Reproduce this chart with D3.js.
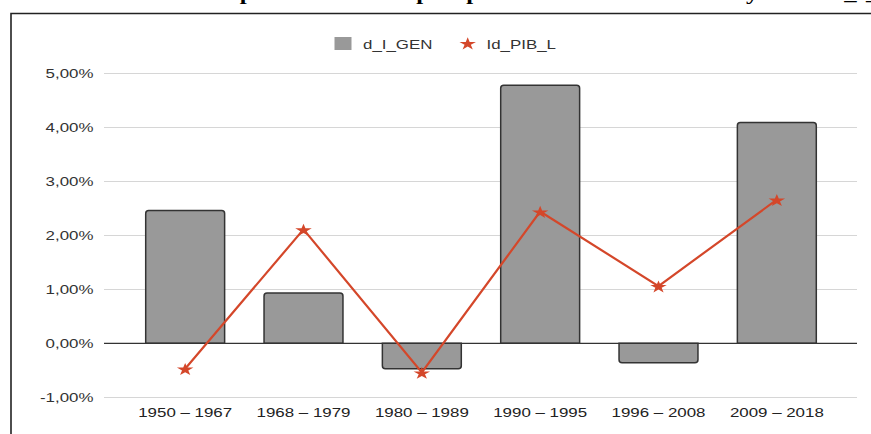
<!DOCTYPE html>
<html><head><meta charset="utf-8">
<script src="https://cdn.jsdelivr.net/npm/d3@7"></script>
<style>html,body{margin:0;padding:0;background:#fff;overflow:hidden}</style>
</head><body>
<svg id="c" width="871" height="434"></svg>
<script>
const categories = ["1950 – 1967","1968 – 1979","1980 – 1989","1990 – 1995","1996 – 2008","2009 – 2018"];
const dIGen = [2.46, 0.93, -0.47, 4.78, -0.36, 4.09];
const idPibL = [-0.47, 2.11, -0.54, 2.44, 1.06, 2.66];
const yTicks = [-1, 0, 1, 2, 3, 4, 5];
const seriesNames = ["d_I_GEN", "Id_PIB_L"];
const titleText = "Gráfico 3. Crecimiento promedio del empleo público frente al PIB total y de las d_I_GEN por periodos";

const SX = 1.3; // horizontal stretch of the picture
const svg = d3.select("#c");
const font = "'Liberation Sans', Arial, sans-serif";

// title (cut off at top)
const tg = svg.append("g").attr("transform", `scale(${SX},1)`);
const tt = tg.append("text").text(titleText)
  .attr("font-family", "'Liberation Serif','Times New Roman',serif")
  .attr("font-weight", "bold").attr("font-size", 19).attr("y", 0.3).attr("fill", "#000");
const idx = titleText.indexOf("empleo") + 2;
const px = tt.node().getStartPositionOfChar(idx).x;
const pw = tt.node().getExtentOfChar(idx).width;
tt.attr("x", 423 / SX - px - pw / 2);

// frame
svg.append("path").attr("d", "M11,434 V13.5 H871").attr("fill", "none")
  .attr("stroke", "#222").attr("stroke-width", 1.6);

const x = d3.scaleBand().domain(categories).range([126, 836]).paddingInner(0.333).paddingOuter(0.1665);
const y = d3.scaleLinear().domain([-1, 5]).range([397.3, 73.3]);
const plotL = 104, plotR = 857;

// grid
svg.append("g").selectAll("line").data(yTicks.filter(d => d !== 0)).join("line")
  .attr("x1", plotL).attr("x2", plotR)
  .attr("y1", d => Math.round(y(d)) + 0.5).attr("y2", d => Math.round(y(d)) + 0.5)
  .attr("stroke", "#d6d6d6").attr("stroke-width", 1);

// y axis labels
const yAxis = d3.axisLeft(y).tickValues(yTicks).tickSize(0).tickPadding(0)
  .tickFormat(d => d3.format(".2f")(d).replace(".", ",").replace("−", "-") + "%");
const ya = svg.append("g").attr("transform", `translate(93.5,0)`).call(yAxis);
ya.select(".domain").remove();
ya.selectAll("text").attr("font-family", font).attr("font-size", 13).attr("fill", "#333")
  .attr("x", 0).attr("dy", "0.35em").attr("transform", `scale(${SX},1)`);

// bars
const r = 3;
function barPath(d, c) {
  const x0 = x(c), x1 = x0 + x.bandwidth();
  const y0 = y(0), yv = y(d);
  if (d >= 0) {
    return `M${x0},${y0} V${yv + r} Q${x0},${yv} ${x0 + r},${yv} H${x1 - r} Q${x1},${yv} ${x1},${yv + r} V${y0} Z`;
  } else {
    return `M${x0},${y0} V${yv - r} Q${x0},${yv} ${x0 + r},${yv} H${x1 - r} Q${x1},${yv} ${x1},${yv - r} V${y0} Z`;
  }
}
svg.append("g").selectAll("path").data(dIGen).join("path")
  .attr("d", (d, i) => barPath(d, categories[i]))
  .attr("fill", "#999999").attr("stroke", "#333").attr("stroke-width", 1.5);

// zero line
svg.append("line").attr("x1", plotL).attr("x2", plotR).attr("y1", y(0)).attr("y2", y(0))
  .attr("stroke", "#333").attr("stroke-width", 1.2);

// x axis labels
const xAxis = d3.axisBottom(x).tickSize(0).tickPadding(0);
const xa = svg.append("g").attr("transform", `translate(0,416.5)`).call(xAxis);
xa.select(".domain").remove();
xa.selectAll("text").attr("font-family", font).attr("font-size", 13).attr("fill", "#222")
  .attr("y", 0).attr("dy", 0).attr("transform", `scale(${SX},1)`);

// line
const red = "#d4472a";
const cx = (d, i) => x(categories[i]) + x.bandwidth() / 2;
const line = d3.line().x((d, i) => cx(d, i)).y(d => y(d));
svg.append("path").datum(idPibL).attr("d", line).attr("fill", "none")
  .attr("stroke", red).attr("stroke-width", 2.2);
const star = d3.symbol().type(d3.symbolStar).size(50);
svg.append("g").selectAll("path").data(idPibL).join("path")
  .attr("d", star)
  .attr("transform", (d, i) => `translate(${cx(d, i)},${y(d) + 1}) scale(${SX},1)`)
  .attr("fill", red);

// legend
svg.append("rect").attr("x", 334.5).attr("y", 37).attr("width", 17).attr("height", 13).attr("fill", "#999999");
svg.append("text").text(seriesNames[0]).attr("font-family", font).attr("font-size", 13).attr("fill", "#333")
  .attr("transform", `translate(363,48.5) scale(${SX},1)`);
svg.append("path").attr("d", star).attr("fill", red)
  .attr("transform", `translate(467.7,44) scale(${SX},1)`);
svg.append("text").text(seriesNames[1]).attr("font-family", font).attr("font-size", 13).attr("fill", "#333")
  .attr("transform", `translate(486.5,48.5) scale(${SX},1)`);
</script>
</body></html>
